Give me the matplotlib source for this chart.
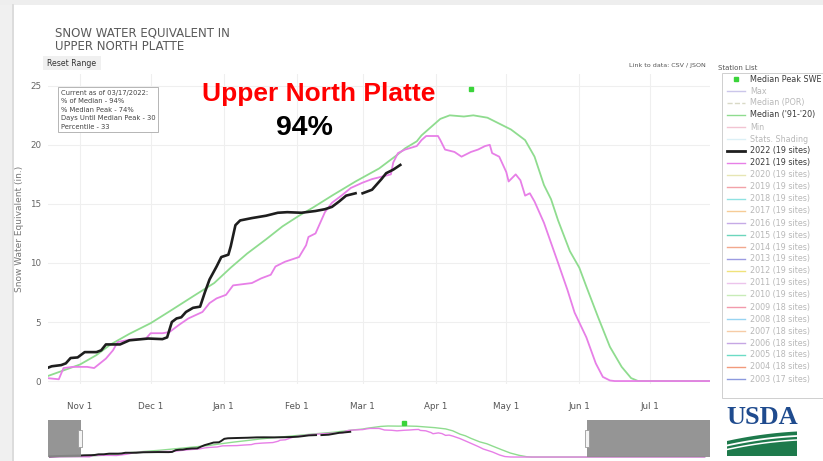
import matplotlib
matplotlib.use("Agg")
import matplotlib.pyplot as plt
import matplotlib.dates as mdates
from matplotlib.patches import Rectangle, Polygon
from matplotlib.lines import Line2D
import numpy as np
import pandas as pd
from datetime import datetime

# ---------------- data ----------------
black_dates = ["2021-10-01","2021-10-08","2021-10-14","2021-10-18","2021-10-20","2021-10-24","2021-10-26",
               "2021-10-28","2021-10-31","2021-11-03","2021-11-08","2021-11-10","2021-11-12","2021-11-18",
               "2021-11-22","2021-11-30","2021-12-06","2021-12-08","2021-12-10","2021-12-12","2021-12-14",
               "2021-12-16","2021-12-19","2021-12-22","2021-12-24","2021-12-26","2021-12-29","2021-12-31",
               "2022-01-03","2022-01-04","2022-01-06","2022-01-08","2022-01-13","2022-01-19","2022-01-24",
               "2022-01-28","2022-02-03","2022-02-09","2022-02-13","2022-02-16","2022-02-19","2022-02-22",
               "2022-02-26","2022-02-27","2022-02-28","2022-03-01","2022-03-05","2022-03-09","2022-03-11",
               "2022-03-14","2022-03-17"]
black_vals = [0.5, 0.8, 1.0, 1.1, 1.25, 1.35, 1.5,
              1.95, 2.0, 2.45, 2.45, 2.6, 3.1, 3.1,
              3.45, 3.6, 3.55, 3.7, 5.0, 5.3, 5.4,
              5.85, 6.2, 6.3, 7.5, 8.6, 9.7, 10.5,
              10.7, 11.4, 13.2, 13.6, 13.8, 14.0, 14.25,
              14.3, 14.25, 14.4, 14.55, 14.75, 15.2, 15.7,
              15.9, np.nan, np.nan, 15.9, 16.2, 17.1, 17.6,
              17.9, 18.3]

pink_dates = ["2021-10-01","2021-10-10","2021-10-18","2021-10-23","2021-10-25","2021-10-29","2021-11-04",
              "2021-11-07","2021-11-12","2021-11-15","2021-11-17","2021-11-22","2021-11-29","2021-12-01",
              "2021-12-06","2021-12-09","2021-12-13","2021-12-17","2021-12-23","2021-12-26","2021-12-29",
              "2022-01-02","2022-01-05","2022-01-13","2022-01-17","2022-01-21","2022-01-23","2022-01-27",
              "2022-02-02","2022-02-05","2022-02-06","2022-02-09","2022-02-11","2022-02-13","2022-02-16",
              "2022-02-20","2022-02-24","2022-03-01","2022-03-05","2022-03-09","2022-03-13","2022-03-14",
              "2022-03-16","2022-03-19","2022-03-24","2022-03-26","2022-03-28","2022-04-02","2022-04-03",
              "2022-04-05","2022-04-09","2022-04-12","2022-04-16","2022-04-19","2022-04-22","2022-04-24",
              "2022-04-25","2022-04-28","2022-05-01","2022-05-02","2022-05-05","2022-05-07","2022-05-09",
              "2022-05-11","2022-05-13","2022-05-17","2022-05-23","2022-05-27","2022-05-30","2022-06-04",
              "2022-06-08","2022-06-11","2022-06-14","2022-06-16","2022-09-30"]
pink_vals = [0.0, 0.2, 0.25, 0.15, 1.1, 1.2, 1.2,
             1.1, 1.9, 2.6, 3.3, 3.5, 3.6, 4.05,
             4.05, 4.15, 4.75, 5.3, 5.85, 6.6, 7.0,
             7.3, 8.1, 8.3, 8.7, 9.0, 9.7, 10.1,
             10.5, 11.5, 12.2, 12.5, 13.4, 14.3, 15.1,
             15.7, 16.35, 16.8, 17.1, 17.3, 17.5, 18.5,
             19.3, 19.6, 19.9, 20.4, 20.75, 20.75, 20.4,
             19.6, 19.4, 19.0, 19.4, 19.6, 19.9, 20.0,
             19.3, 19.0, 17.7, 16.9, 17.5, 17.0, 15.7,
             15.9, 15.2, 13.4, 10.0, 7.7, 5.8, 3.7,
             1.5, 0.35, 0.05, 0.0, 0.0]

green_dates = ["2021-10-01","2021-10-10","2021-10-18","2021-10-25","2021-11-01","2021-11-08","2021-11-14",
               "2021-11-22","2021-12-01","2021-12-09","2021-12-20","2021-12-28","2022-01-04","2022-01-11",
               "2022-01-19","2022-01-26","2022-02-02","2022-02-08","2022-02-16","2022-02-26","2022-03-08",
               "2022-03-16","2022-03-19","2022-03-24","2022-03-26","2022-03-30","2022-04-03","2022-04-07",
               "2022-04-13","2022-04-17","2022-04-23","2022-04-27","2022-05-03","2022-05-09","2022-05-13",
               "2022-05-15","2022-05-17","2022-05-20","2022-05-23","2022-05-28","2022-06-01","2022-06-04",
               "2022-06-09","2022-06-14","2022-06-19","2022-06-23","2022-06-26","2022-09-30"]
green_vals = [0.0, 0.2, 0.4, 0.9, 1.4, 2.2, 3.1,
              4.0, 4.9, 5.9, 7.3, 8.3, 9.6, 10.8,
              12.0, 13.1, 14.0, 14.7, 15.7, 16.9, 18.0,
              19.2, 19.7, 20.3, 20.8, 21.5, 22.2, 22.5,
              22.4, 22.5, 22.3, 21.9, 21.3, 20.4, 19.0,
              17.8, 16.6, 15.4, 13.6, 11.0, 9.6, 8.0,
              5.4, 2.9, 1.2, 0.25, 0.0, 0.0]

peak_date = "2022-04-16"
peak_val = 24.7

month_ticks = ["2021-11-01","2021-12-01","2022-01-01","2022-02-01","2022-03-01",
               "2022-04-01","2022-05-01","2022-06-01","2022-07-01"]
month_labels = ["Nov 1","Dec 1","Jan 1","Feb 1","Mar 1","Apr 1","May 1","Jun 1","Jul 1"]
y_ticks = [0, 5, 10, 15, 20, 25]

info_lines = ["Current as of 03/17/2022:", "% of Median - 94%", "% Median Peak - 74%",
              "Days Until Median Peak - 30", "Percentile - 33"]

legend_labels = ["Median Peak SWE", "Max", "Median (POR)", "Median ('91-'20)", "Min", "Stats. Shading",
                 "2022 (19 sites)", "2021 (19 sites)", "2020 (19 sites)", "2019 (19 sites)",
                 "2018 (19 sites)", "2017 (19 sites)", "2016 (19 sites)", "2015 (19 sites)",
                 "2014 (19 sites)", "2013 (19 sites)", "2012 (19 sites)", "2011 (19 sites)",
                 "2010 (19 sites)", "2009 (18 sites)", "2008 (18 sites)", "2007 (18 sites)",
                 "2006 (18 sites)", "2005 (18 sites)", "2004 (18 sites)", "2003 (17 sites)"]
legend_colors = [None, "#cbc6ea", "#d9d9c6", "#8fdc8f", "#f2c4d2", "#dcf0f6",
                 "#1e1e1e", "#e77fe7", "#e6e6b4", "#f2a2a8", "#8fe2e2", "#f6cc96",
                 "#c6aae6", "#6cd6bc", "#f2a88e", "#9c9ce2", "#f0e27a", "#ecc4ec",
                 "#c8ecb8", "#f29aac", "#98d4f2", "#f6cca6", "#c6a6e4", "#6cdcc6",
                 "#f29a7c", "#8c9ade"]
legend_active = [True, False, False, True, False, False, True, True] + [False] * 18

# ---------------- figure ----------------
W, H = 823, 461
fig = plt.figure(figsize=(W / 100, H / 100), dpi=100)
fig.patch.set_facecolor("white")

def fx(px):
    return np.asarray(px) / W

def fy(py):
    return 1 - np.asarray(py) / H

# page edges (screenshot frame)
fig.add_artist(Rectangle((0, fy(461)), fx(12), 1, transform=fig.transFigure,
                         facecolor="#f0f0f0", edgecolor="none", zorder=0))
fig.add_artist(Rectangle((0, fy(5)), 1, 5 / H, transform=fig.transFigure,
                         facecolor="#eeeeee", edgecolor="none", zorder=0))
fig.add_artist(Line2D([fx(12.5), fx(12.5)], [0, fy(5)], transform=fig.transFigure,
                      color="#d6d6d6", lw=1.2, zorder=1))

to_dt = lambda lst: pd.to_datetime(lst)

# ---------------- main axes ----------------
ax = fig.add_axes([fx(48), fy(384), fx(710) - fx(48), (384 - 74) / H])
ax.set_facecolor("none")
ax.plot(to_dt(green_dates), green_vals, color="#8fdc8f", lw=1.3, zorder=3)
ax.plot(to_dt(pink_dates), pink_vals, color="#e77fe7", lw=1.3, zorder=4)
ax.plot(to_dt(black_dates), black_vals, color="#1e1e1e", lw=1.9, zorder=5)
ax.plot(pd.to_datetime([peak_date]), [peak_val], marker="s", ms=3.5, color="#3ad43a",
        ls="none", zorder=6)

ax.set_xlim(datetime(2021, 10, 18, 10), datetime(2022, 7, 26, 12))
ax.set_ylim(-0.25, 26.0)
ax.set_xticks(to_dt(month_ticks))
ax.set_xticklabels(month_labels)
ax.set_yticks(y_ticks)
ax.tick_params(axis="x", length=0, pad=13, labelsize=6.3, labelcolor="#555555")
ax.tick_params(axis="y", length=0, pad=5, labelsize=6.3, labelcolor="#666666")
ax.grid(True, color="#efefef", lw=0.8)
ax.set_axisbelow(True)
for s in ax.spines.values():
    s.set_visible(False)
ax.set_ylabel("Snow Water Equivalent (in.)", fontsize=6.5, color="#777777", labelpad=4)

# ---------------- navigator ----------------
nav = fig.add_axes([fx(48), fy(458), fx(710) - fx(48), 40 / H])
nav.plot(to_dt(green_dates), green_vals, color="#8fdc8f", lw=1.0, zorder=2)
nav.plot(to_dt(pink_dates), pink_vals, color="#e77fe7", lw=1.0, zorder=3)
nav.plot(to_dt(black_dates), black_vals, color="#1e1e1e", lw=1.4, zorder=4)
nav.plot(pd.to_datetime([peak_date]), [peak_val], marker="s", ms=3, color="#3ad43a",
         ls="none", zorder=5)
nx0, nx1 = datetime(2021, 9, 30), datetime(2022, 10, 3)
nav.set_xlim(nx0, nx1)
nav.set_ylim(-0.7, 28.3)
nav.axvspan(nx0, datetime(2021, 10, 18, 10), ymin=0.02, ymax=0.95, color="#8c8c8c", alpha=0.92, zorder=6, lw=0)
nav.axvspan(datetime(2022, 7, 26, 12), nx1, ymin=0.02, ymax=0.95, color="#8c8c8c", alpha=0.92, zorder=6, lw=0)
nav.set_xticks([])
nav.set_yticks([])
for s in nav.spines.values():
    s.set_visible(False)
for hx in (80, 587):
    fig.add_artist(Rectangle((fx(hx - 2), fy(447)), 4 / W, 17 / H, transform=fig.transFigure,
                             facecolor="#f4f4f4", edgecolor="#9a9a9a", lw=0.6, zorder=10))

# ---------------- titles & annotations ----------------
fig.text(fx(55), fy(33), "SNOW WATER EQUIVALENT IN", fontsize=8.5, color="#5a5a5a", va="center")
fig.text(fx(55), fy(47), "UPPER NORTH PLATTE", fontsize=8.5, color="#5a5a5a", va="center")

fig.add_artist(Rectangle((fx(43), fy(70)), 58 / W, 14 / H, transform=fig.transFigure,
                         facecolor="#f0f0f0", edgecolor="none", zorder=2))
fig.text(fx(47), fy(63), "Reset Range", fontsize=5.6, color="#333333", va="center")

fig.add_artist(Rectangle((fx(58), fy(132)), 100 / W, 45 / H, transform=fig.transFigure,
                         facecolor="white", edgecolor="#aaaaaa", lw=0.6, zorder=7))
for i, line in enumerate(info_lines):
    fig.text(fx(61), fy(92.5 + i * 8.6), line, fontsize=4.9, color="#444444", va="center", zorder=8)

fig.text(fx(319), fy(94), "Upper North Platte", fontsize=19, fontweight="bold", color="#ff0000",
         family="Liberation Sans", ha="center", va="center", zorder=9)
fig.text(fx(304), fy(128), "94%", fontsize=20.5, fontweight="bold", color="#000000",
         family="Liberation Sans", ha="center", va="center", zorder=9)

fig.text(fx(706), fy(65), "Link to data: CSV / JSON", fontsize=4.6, color="#555555",
         ha="right", va="center")

# ---------------- legend ----------------
fig.text(fx(718), fy(68), "Station List", fontsize=5, color="#555555", va="center")
fig.add_artist(Rectangle((fx(722), fy(398)), 120 / W, (398 - 73) / H, transform=fig.transFigure,
                         facecolor="white", edgecolor="#cfcfcf", lw=0.7, zorder=2))
for i, (lab, col, act) in enumerate(zip(legend_labels, legend_colors, legend_active)):
    yy = 79 + i * 12.0
    if col is None:
        fig.add_artist(Line2D([fx(736)], [fy(yy)], transform=fig.transFigure, marker="s", ms=3.2,
                              color="#3ad43a", ls="none", zorder=3))
    else:
        ls = "--" if "POR" in lab else "-"
        lw = 2.0 if lab.startswith("2022") else 1.0
        fig.add_artist(Line2D([fx(727), fx(745)], [fy(yy), fy(yy)], transform=fig.transFigure,
                              color=col, lw=lw, ls=ls, zorder=3))
    fig.text(fx(750), fy(yy), lab, fontsize=5.8, color="#3a3a3a" if act else "#b8b8b8",
             va="center", zorder=3)

# ---------------- USDA logo ----------------
fig.text(fx(762), fy(417), "USDA", fontsize=19, fontweight="bold", color="#1f4b8e",
         family="Liberation Serif", ha="center", va="center")
xs = np.linspace(727, 797, 40)
top = 441 - (xs - 727) * 0.22 + 0.0012 * (xs - 727) ** 2
poly = list(zip(fx(xs), fy(top))) + [(fx(797), fy(456)), (fx(727), fy(456))]
fig.add_artist(Polygon(poly, closed=True, transform=fig.transFigure,
                       facecolor="#1e7a4c", edgecolor="none", zorder=3))
for off, lw in ((4.5, 1.3), (8.5, 1.1)):
    ys = top + off
    fig.add_artist(Line2D(fx(xs), fy(ys), transform=fig.transFigure, color="white", lw=lw, zorder=4))

fig.savefig("out.png", dpi=100)
